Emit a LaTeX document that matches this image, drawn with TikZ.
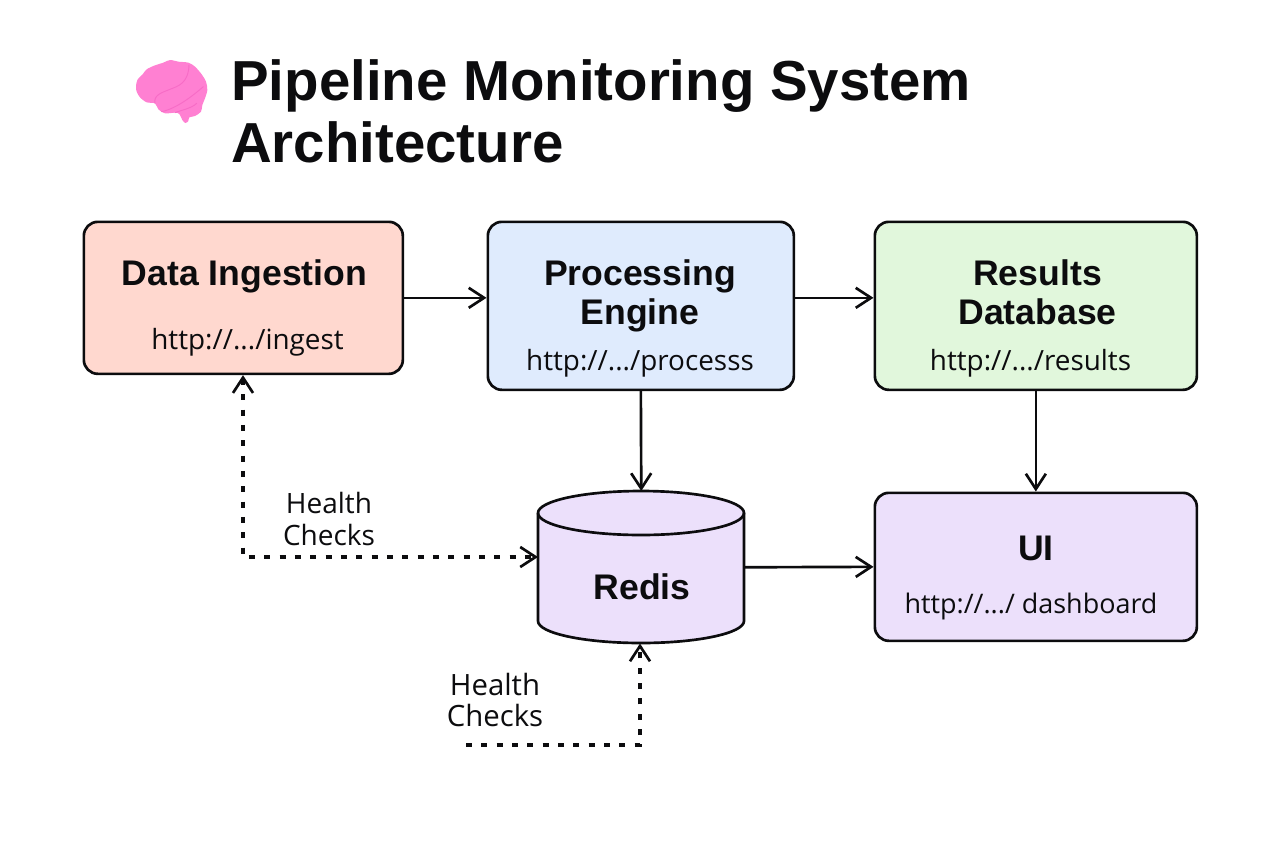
\documentclass[tikz,border=0pt]{standalone}
\usepackage{fontspec}
\setmainfont{Liberation Sans}
\newfontfamily\lightfont{Open Sans}
\usetikzlibrary{arrows.meta}
\definecolor{ink}{HTML}{0C0C0E}
\definecolor{peach}{HTML}{FFD8CF}
\definecolor{sky}{HTML}{DFEBFD}
\definecolor{mint}{HTML}{E1F7DC}
\definecolor{lav}{HTML}{ECE0FB}
\definecolor{brainfill}{HTML}{FF80D2}
\definecolor{brainline}{HTML}{F76CC6}
\tikzset{
  x=0.75pt,y=-0.75pt,
  box/.style={draw=ink,line width=2pt,rounded corners=10.5pt,inner sep=0pt},
  head/.style={font=\fontsize{26.7}{29.5}\selectfont\bfseries,text=ink,align=center,inner sep=0pt},
  url/.style={font=\lightfont\fontsize{20.9}{22}\selectfont,text=ink,inner sep=0pt},
  urlb/.style={font=\lightfont\fontsize{20.2}{22}\selectfont,text=ink,inner sep=0pt},
  note/.style={font=\lightfont\fontsize{21}{23.5}\selectfont,text=ink,align=center,inner sep=0pt},
  noteb/.style={font=\lightfont\fontsize{22}{23.5}\selectfont,text=ink,align=center,inner sep=0pt},
  conn/.style={draw=ink,line width=2pt,-{Straight Barb[length=11.5pt,width=15pt,line width=2pt]}},
  dots/.style={draw=ink,line width=2.3pt,dash pattern=on 4.5pt off 7pt,{Straight Barb[length=11.5pt,width=15pt,line width=2pt]}-{Straight Barb[length=11.5pt,width=15pt,line width=2pt]}},
  dotsone/.style={draw=ink,line width=2.3pt,dash pattern=on 4.5pt off 7pt,-{Straight Barb[length=11.5pt,width=15pt,line width=2pt]}},
}
\begin{document}
\begin{tikzpicture}
\useasboundingbox (0,0) rectangle (1280,853);
\fill[white] (0,0) rectangle (1280,853);
% brain
\begin{scope}[shift={(120,40)},x=0.25pt,y=-0.25pt]
\fill[brainfill]
 plot[smooth cycle,tension=0.5] coordinates {(48,140) (52,120) (68,103) (80,88) (105,76) (130,68) (150,60) (175,65) (205,68) (225,80) (245,103) (258,125) (262,150) (255,175) (247,195) (243,215) (225,228) (208,232) (205,243) (196,249) (187,240) (178,222) (165,218) (135,220) (115,208) (105,190) (80,187) (60,172) (50,155)};
\draw[brainline,line width=0.7pt,line cap=round] (105,190) .. controls (100,165) and (125,158) .. (150,148) .. controls (175,138) and (205,130) .. (207,75);
\draw[brainline,line width=0.7pt,line cap=round] (125,215) .. controls (170,205) and (215,170) .. (250,140);
\draw[brainline,line width=0.7pt,line cap=round] (165,218) .. controls (185,210) and (215,205) .. (230,190);
\end{scope}
\node[anchor=base west,font=\fontsize{42.3}{46}\selectfont\bfseries,text=ink,inner sep=0pt] (t1) at (231,100) {Pipeline Monitoring System};
\node[anchor=base west,font=\fontsize{42.3}{46}\selectfont\bfseries,text=ink,inner sep=0pt] (t2) at (231,162) {Architecture};
% boxes
\node[box,fill=peach,minimum width=239.25pt,minimum height=114pt,anchor=north west] (ing) at (82.5,220.5) {};
\node[box,fill=sky,minimum width=229.5pt,minimum height=126pt,anchor=north west] (proc) at (486.5,220.5) {};
\node[box,fill=mint,minimum width=241.5pt,minimum height=126pt,anchor=north west] (res) at (873.5,220.5) {};
\node[box,fill=lav,minimum width=241.5pt,minimum height=111pt,anchor=north west] (ui) at (873.5,491.5) {};
% cylinder
\node[minimum width=154.5pt,minimum height=114pt,inner sep=0pt,anchor=north west] (red) at (538,491) {};
\draw[draw=ink,line width=2pt,fill=lav] (538,513) arc[x radius=103,y radius=22,start angle=180,end angle=360] -- (744,621) arc[x radius=103,y radius=22,start angle=0,end angle=180] -- cycle;
\draw[draw=ink,line width=2pt] (538,513) arc[x radius=103,y radius=22,start angle=180,end angle=0];
% text
\node[head] (h1) at (244.5,276) {Data Ingestion};
\node[url] (u1) at (247.5,342) {http://.../ingest};
\node[head] (h2) at (640,296) {Processing\\Engine};
\node[url] (u2) at (640,363) {http://.../processs};
\node[head] (h3) at (1037.5,292.5) {Results\\Database};
\node[url] (u3) at (1030.5,363) {http://.../results};
\node[head] (h4) at (1036,548) {UI};
\node[urlb] (u4) at (1031,606) {http://.../ dashboard};
\node[head] (h5) at (642,587) {Redis};
\node[note] (n1) at (329,519) {Health\\Checks};
\node[noteb] (n2) at (495,700) {Health\\Checks};
% connectors
\draw[conn] (ing.east) -- (ing.east -| proc.west);
\draw[conn] (ing.east -| proc.east) -- (ing.east -| res.west);
\draw[conn] (proc.south) -- (red.north);
\draw[conn] (res.south) -- (ui.north);
\draw[conn] (red.east) -- (ui.west);
\coordinate (c1) at (243,557);
\coordinate (c2) at (640,745);
\coordinate (c3) at (466,745);
\draw[dots] (ing.south -| c1) -- (c1) -- (c1 -| red.west);
\draw[dotsone] (c3) -- (c2) -- (red.south -| c2);
\end{tikzpicture}
\end{document}
